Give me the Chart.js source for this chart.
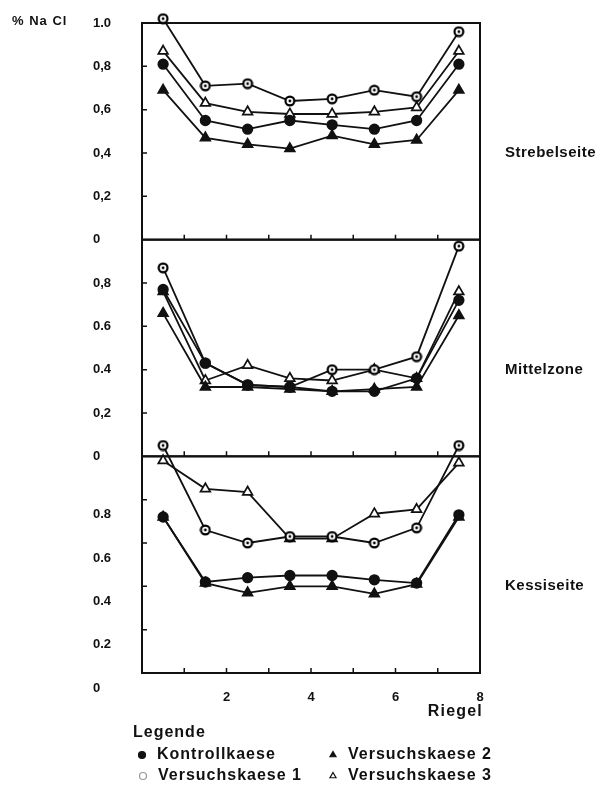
<!DOCTYPE html>
<html>
<head>
<meta charset="utf-8">
<script src="https://cdn.jsdelivr.net/npm/chart.js@4.4.1/dist/chart.umd.min.js"></script>
<style>
  html, body { margin: 0; padding: 0; background: #fff; }
  #wrap { position: relative; width: 603px; height: 787px; }
</style>
</head>
<body>
<div id="wrap"><canvas id="naclChart"></canvas></div>
<script>
// Riegel (x) and % NaCl for the three zones of the cheese
const riegel = [0.5, 1.5, 2.5, 3.5, 4.5, 5.5, 6.5, 7.5];
const xTickLabels = ['', '', '2', '', '4', '', '6', '', '8'];

const strebelKontroll = [0.81, 0.55, 0.51, 0.55, 0.53, 0.51, 0.55, 0.81];
const strebelV1 = [1.02, 0.71, 0.72, 0.64, 0.65, 0.69, 0.66, 0.96];
const strebelV2 = [0.69, 0.47, 0.44, 0.42, 0.48, 0.44, 0.46, 0.69];
const strebelV3 = [0.87, 0.63, 0.59, 0.58, 0.58, 0.59, 0.61, 0.87];

const mitteKontroll = [0.77, 0.43, 0.33, 0.32, 0.30, 0.30, 0.36, 0.72];
const mitteV1 = [0.87, 0.43, 0.33, 0.32, 0.40, 0.40, 0.46, 0.97];
const mitteV2 = [0.66, 0.32, 0.32, 0.31, 0.30, 0.31, 0.32, 0.65];
const mitteV3 = [0.76, 0.35, 0.42, 0.36, 0.35, 0.40, 0.36, 0.76];

const kessiKontroll = [0.72, 0.42, 0.44, 0.45, 0.45, 0.43, 0.415, 0.73];
const kessiV1 = [1.05, 0.66, 0.60, 0.63, 0.63, 0.60, 0.67, 1.05];
const kessiV2 = [0.72, 0.415, 0.37, 0.40, 0.40, 0.365, 0.41, 0.72];
const kessiV3 = [0.98, 0.85, 0.835, 0.62, 0.62, 0.735, 0.755, 0.97];

const seriesNames = ['Kontrollkaese', 'Versuchskaese 1', 'Versuchskaese 2', 'Versuchskaese 3'];
const zoneNames = ['Strebelseite', 'Mittelzone', 'Kessiseite'];

const yTicksStrebel = ['0', '0,2', '0,4', '0,6', '0,8', '1.0'];
const yTicksMitte = ['0', '0,2', '0.4', '0.6', '0,8', ''];
const yTicksKessi = ['0', '0.2', '0.4', '0.6', '0.8', ''];

const ink = '#111';
const boldFont = size => ({ family: '"Liberation Sans", Arial, sans-serif', size: size, weight: 'bold' });

// open circle with a dot in the middle
function ringDot(size) {
  const c = document.createElement('canvas');
  c.width = size; c.height = size;
  const g = c.getContext('2d');
  const m = size / 2;
  g.fillStyle = '#fff';
  g.strokeStyle = '#000';
  g.lineWidth = 2.2;
  g.beginPath(); g.arc(m, m, m - 1.6, 0, Math.PI * 2); g.fill(); g.stroke();
  g.fillStyle = '#000';
  g.beginPath(); g.arc(m, m, 1.4, 0, Math.PI * 2); g.fill();
  return c;
}

const markers = [
  { pointStyle: 'circle', bg: ink, radius: 4.8 },
  { pointStyle: ringDot(12), bg: '#fff', radius: 6 },
  { pointStyle: 'triangle', bg: ink, radius: 5.6 },
  { pointStyle: 'triangle', bg: '#fff', radius: 5.6 }
];

const zones = [
  { id: 'yStrebel', series: [strebelKontroll, strebelV1, strebelV2, strebelV3] },
  { id: 'yMitte', series: [mitteKontroll, mitteV1, mitteV2, mitteV3] },
  { id: 'yKessi', series: [kessiKontroll, kessiV1, kessiV2, kessiV3] }
];

const datasets = [];
zones.forEach(z => {
  z.series.forEach((vals, i) => {
    datasets.push({
      label: seriesNames[i],
      xAxisID: 'x',
      yAxisID: z.id,
      data: riegel.map((x, k) => ({ x: x, y: vals[k] })),
      showLine: true,
      tension: 0,
      clip: false,
      borderColor: ink,
      borderWidth: 1.8,
      pointStyle: markers[i].pointStyle,
      pointRadius: markers[i].radius,
      pointHoverRadius: markers[i].radius,
      pointBackgroundColor: markers[i].bg,
      pointBorderColor: ink,
      pointBorderWidth: 1.7
    });
  });
});

function zoneAxis(labels, offset) {
  return {
    type: 'linear',
    position: 'left',
    stack: 'zones',
    stackWeight: 1,
    min: 0,
    max: 1,
    grid: { display: false },
    border: { display: false },
    afterFit: s => { s.width = 49; },
    ticks: {
      stepSize: 0.2,
      autoSkip: false,
      crossAlign: 'far',
      labelOffset: offset,
      color: ink,
      font: boldFont(13),
      callback: (v, i) => labels[i]
    }
  };
}

// panel frames with small inward ticks
const framePlugin = {
  id: 'frames',
  beforeDatasetsDraw(chart) {
    const { ctx } = chart;
    const x = chart.scales.x;
    ctx.save();
    ctx.strokeStyle = ink;
    zones.forEach(z => {
      const y = chart.scales[z.id];
      ctx.lineWidth = 2;
      ctx.strokeRect(x.left, y.top, x.right - x.left, y.bottom - y.top);
      ctx.lineWidth = 1.5;
      ctx.beginPath();
      y.ticks.forEach(t => {
        if (t.value > 0.01 && t.value < 0.99) {
          const py = y.getPixelForValue(t.value);
          ctx.moveTo(x.left, py);
          ctx.lineTo(x.left + 5, py);
        }
      });
      x.ticks.forEach(t => {
        if (t.value > 0 && t.value < 8) {
          const px = x.getPixelForValue(t.value);
          ctx.moveTo(px, y.bottom);
          ctx.lineTo(px, y.bottom - 5);
        }
      });
      ctx.stroke();
    });
    ctx.restore();
  }
};

// axis titles, zone names and the legend block
const textPlugin = {
  id: 'texts',
  afterDraw(chart) {
    const { ctx } = chart;
    const drawText = (txt, x, y, size, align, spacing) => {
      ctx.font = 'bold ' + size + 'px "Liberation Sans", Arial, sans-serif';
      ctx.letterSpacing = (spacing || 0) + 'px';
      ctx.textAlign = align || 'left';
      ctx.textBaseline = 'middle';
      ctx.fillText(txt, x, y);
    };
    ctx.save();
    ctx.fillStyle = ink;
    drawText('% Na Cl', 12, 21, 13, 'left', 1);
    zones.forEach((z, i) => {
      drawText(zoneNames[i], 505, chart.scales[z.id].getPixelForValue(0.4), 15, 'left', 0.5);
    });
    drawText('Riegel', 483, 712, 16, 'right', 1.2);
    drawText('Legende', 133, 733, 16, 'left', 1);

    const slots = [
      { x: 142, y: 755 }, { x: 143, y: 776 },
      { x: 333, y: 755 }, { x: 333, y: 776 }
    ];
    seriesNames.forEach((name, i) => {
      const s = slots[i];
      ctx.fillStyle = markers[i].bg;
      ctx.strokeStyle = i === 1 ? '#999' : ink;
      ctx.lineWidth = 1.2;
      const style = i === 1 ? 'circle' : markers[i].pointStyle;
      if (i === 1) ctx.fillStyle = '#fff';
      Chart.helpers.drawPoint(ctx, { pointStyle: style, radius: 3.5, borderWidth: 1.2, rotation: 0 }, s.x, s.y);
      ctx.fillStyle = ink;
      drawText(name, s.x + 15, s.y, 16, 'left', 1);
    });
    ctx.restore();
  }
};

new Chart(document.getElementById('naclChart').getContext('2d'), {
  type: 'scatter',
  data: { datasets: datasets },
  options: {
    responsive: true,
    maintainAspectRatio: false,
    animation: false,
    layout: { padding: { left: 93, right: 123, top: 23, bottom: 0 } },
    plugins: {
      legend: { display: false },
      tooltip: { enabled: false }
    },
    scales: {
      x: {
        type: 'linear',
        position: 'bottom',
        min: 0,
        max: 8,
        grid: { display: false },
        border: { display: false },
        afterFit: s => { s.height = 114; },
        ticks: {
          stepSize: 1,
          autoSkip: false,
          maxRotation: 0,
          padding: 9,
          color: ink,
          font: boldFont(13),
          callback: (v, i) => xTickLabels[i]
        }
      },
      yKessi: zoneAxis(yTicksKessi, 15),
      yMitte: zoneAxis(yTicksMitte, 0),
      yStrebel: zoneAxis(yTicksStrebel, 0)
    }
  },
  plugins: [framePlugin, textPlugin]
});
</script>
</body>
</html>
